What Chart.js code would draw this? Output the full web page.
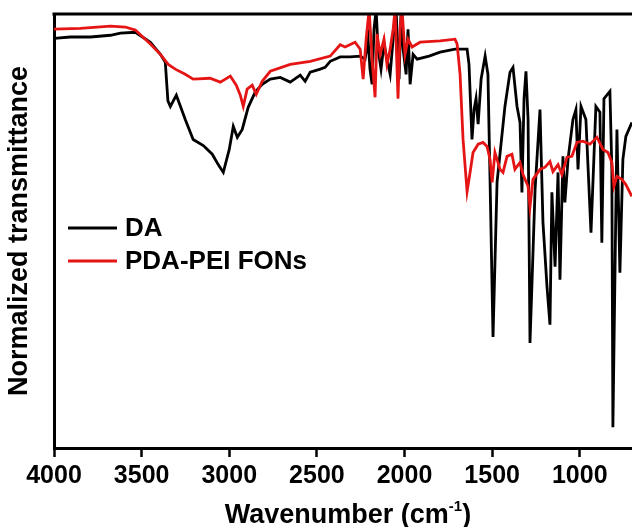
<!DOCTYPE html>
<html>
<head>
<meta charset="utf-8">
<script src="https://cdn.jsdelivr.net/npm/chart.js@4"></script>
<style>
  html, body { margin: 0; padding: 0; background: #fff; }
  #wrap { width: 632px; height: 527px; }
</style>
</head>
<body>
<div id="wrap"><canvas id="chartFtir" width="632" height="527"></canvas></div>
<script>
// x tick labels (wavenumber, cm-1)
const xTicks = [4000, 3500, 3000, 2500, 2000, 1500, 1000];

// DA spectrum: wavenumber / normalized transmittance (arb. units, 0-100)
const daWavenumber = [4000, 3907, 3792, 3678, 3621, 3536, 3450, 3393, 3365, 3350,
  3336, 3302, 3251, 3206, 3148, 3097, 3063, 3034, 3000, 2977,
  2954, 2926, 2892, 2852, 2812, 2766, 2709, 2652, 2595, 2567,
  2538, 2481, 2453, 2424, 2367, 2310, 2253, 2225, 2208, 2197,
  2185, 2174, 2162, 2151, 2134, 2117, 2100, 2082, 2065, 2048,
  2031, 2020, 2008, 1991, 1980, 1968, 1951, 1928, 1860, 1797,
  1712, 1643, 1632, 1615, 1603, 1592, 1580, 1563, 1540, 1524,
  1512, 1495, 1472, 1427, 1398, 1381, 1358, 1341, 1330, 1318,
  1307, 1295, 1284, 1255, 1227, 1210, 1187, 1170, 1159, 1141,
  1124, 1113, 1096, 1085, 1067, 1039, 1022, 1010, 993, 965,
  936, 908, 885, 874, 862, 828, 817, 811, 788, 771,
  754, 737, 703];
const daTrans = [94.4, 94.7, 94.7, 95.1, 95.6, 95.8, 93.5, 90.7, 88.9, 80,
  78.7, 81.3, 75.7, 71.1, 69.7, 67.7, 65.3, 63.5, 68.8, 74.1,
  71.6, 73.4, 78.5, 82.0, 83.8, 85.0, 85.4, 84.3, 85.9, 84.5,
  86.6, 87.3, 87.7, 89.1, 90.1, 90.1, 90.3, 89.6, 94.2, 87.3,
  83.8, 96.5, 101, 91.9, 87.3, 93.1, 89.6, 86.1, 94.2, 101,
  85.0, 100.5, 91.9, 86.1, 96.5, 83.8, 90.7, 89.6, 90.3, 91.2,
  91.9, 91.9, 88.4, 71.1, 78.0, 80.5, 74.6, 85.0, 90.3, 86.1,
  61.9, 25.6, 61.2, 78.7, 86.6, 87.7, 78.7, 75.0, 58.9, 80.5,
  86.8, 75.7, 24.2, 59.6, 78.0, 52.0, 37.2, 28.4, 58.9, 41.8,
  63.5, 38.8, 67.2, 56.6, 66.5, 75.7, 78.0, 64.2, 78.7, 75.7,
  49.6, 78.7, 77.4, 47.3, 80.5, 82.2, 64.2, 4.8, 73.4, 40.4,
  66.5, 71.8, 75.0];

// PDA-PEI FONs spectrum
const pdaWavenumber = [4000, 3850, 3678, 3593, 3536, 3450, 3393, 3348, 3308, 3251,
  3206, 3110, 3051, 2994, 2960, 2937, 2920, 2898, 2869, 2846,
  2812, 2766, 2652, 2538, 2424, 2367, 2339, 2282, 2253, 2236,
  2219, 2202, 2185, 2168, 2157, 2139, 2117, 2100, 2082, 2065,
  2054, 2037, 2025, 2014, 1997, 1980, 1957, 1911, 1797, 1712,
  1700, 1683, 1666, 1643, 1626, 1609, 1580, 1552, 1529, 1512,
  1500, 1484, 1455, 1438, 1415, 1387, 1370, 1341, 1324, 1295,
  1284, 1267, 1227, 1198, 1170, 1153, 1124, 1102, 1073, 1045,
  1016, 982, 942, 902, 868, 839, 817, 805, 788, 760,
  737, 703];
const pdaTrans = [96.5, 96.7, 97.2, 97.0, 96.3, 93.1, 90.7, 88.4, 87.3, 86.1,
  85.0, 85.2, 84.3, 85.7, 83.6, 81.3, 78.7, 82.7, 83.6, 81.5,
  84.5, 86.8, 88.4, 89.1, 90.3, 92.9, 92.4, 93.5, 91.9, 85.0,
  94.2, 101, 89.6, 80.8, 95.4, 90.7, 94.2, 88.4, 91.9, 96.5,
  101, 80.5, 96.5, 101, 90.7, 94.2, 92.4, 93.5, 93.8, 94.2,
  93.1, 86.1, 71.1, 59.1, 63.5, 68.1, 70.0, 70.4, 69.5, 66.5,
  61.2, 68.1, 64.2, 63.5, 67.2, 67.7, 64.2, 65.8, 63.0, 60.3,
  55.6, 61.9, 64.2, 64.7, 66.0, 63.7, 65.3, 63.0, 67.0, 67.2,
  70.4, 70.7, 70.0, 71.6, 68.8, 68.1, 65.8, 60.3, 62.6, 61.9,
  60.7, 58.0];

const FONT = "'Liberation Sans', Arial, sans-serif";
const toPoints = (xs, ys) => xs.map((x, i) => ({ x: x, y: ys[i] }));

// frame top edge, axis titles and legend
const marcoYTextos = {
  id: 'marcoYTextos',
  afterDraw(chart) {
    const { ctx, chartArea: a } = chart;
    ctx.save();
    ctx.strokeStyle = '#000';
    ctx.lineWidth = 3;
    ctx.beginPath();
    ctx.moveTo(a.left - 1.5, a.top);
    ctx.lineTo(a.right, a.top);
    ctx.stroke();

    // legend
    ctx.font = 'bold 26px ' + FONT;
    ctx.textBaseline = 'middle';
    ctx.fillStyle = '#000';
    chart.data.datasets.forEach((ds, i) => {
      const y = 228 + i * 33;
      ctx.strokeStyle = ds.borderColor;
      ctx.lineWidth = 3;
      ctx.beginPath();
      ctx.moveTo(68, y);
      ctx.lineTo(117, y);
      ctx.stroke();
      ctx.fillText(ds.label, 125, y + 1);
    });

    // y title
    ctx.font = 'bold 27px ' + FONT;
    ctx.textAlign = 'center';
    ctx.translate(20, (a.top + a.bottom) / 2);
    ctx.rotate(-Math.PI / 2);
    ctx.fillText('Normalized transmittance', 0, 0);
    ctx.restore();

    // x title with superscript
    ctx.save();
    ctx.fillStyle = '#000';
    ctx.textBaseline = 'alphabetic';
    const main = 'Wavenumber (cm';
    const sup = '-1';
    ctx.font = 'bold 27px ' + FONT;
    const wMain = ctx.measureText(main).width;
    const wClose = ctx.measureText(')').width;
    ctx.font = 'bold 15px ' + FONT;
    const wSup = ctx.measureText(sup).width;
    const total = wMain + wSup + wClose;
    let x = 348 - total / 2;
    const base = 523;
    ctx.font = 'bold 27px ' + FONT;
    ctx.fillText(main, x, base);
    x += wMain;
    ctx.font = 'bold 15px ' + FONT;
    ctx.fillText(sup, x, base - 12);
    x += wSup;
    ctx.font = 'bold 27px ' + FONT;
    ctx.fillText(')', x, base);
    ctx.restore();
  },
};

new Chart(document.getElementById('chartFtir'), {
  type: 'line',
  data: {
    datasets: [
      {
        label: 'DA',
        data: toPoints(daWavenumber, daTrans),
        borderColor: '#000000',
        borderWidth: 2.8,
        pointRadius: 0,
        tension: 0,
        order: 1,
      },
      {
        label: 'PDA-PEI FONs',
        data: toPoints(pdaWavenumber, pdaTrans),
        borderColor: '#e61515',
        borderWidth: 2.8,
        pointRadius: 0,
        tension: 0,
        order: 0,
      },
    ],
  },
  options: {
    responsive: false,
    animation: false,
    layout: { padding: { top: 14, right: 0, bottom: 0, left: 0 } },
    scales: {
      x: {
        type: 'linear',
        reverse: true,
        min: 702,
        max: 4000,
        afterBuildTicks: (scale) => { scale.ticks = xTicks.map(v => ({ value: v })); },
        afterFit: (scale) => { scale.height = 79; },
        border: { display: true, color: '#000', width: 3 },
        grid: { display: true, drawOnChartArea: false, drawTicks: true, tickLength: 9, tickWidth: 2.5, tickColor: '#000', color: '#000' },
        ticks: {
          color: '#000',
          padding: 4,
          maxRotation: 0,
          autoSkip: false,
          font: { family: FONT, size: 25, weight: 'bold' },
          callback: (v) => String(v),
        },
      },
      y: {
        min: 0,
        max: 100,
        afterFit: (scale) => { scale.width = 54; },
        border: { display: true, color: '#000', width: 3 },
        grid: { display: false, drawTicks: false },
        ticks: { display: false },
      },
    },
    plugins: {
      legend: { display: false },
      tooltip: { enabled: false },
    },
  },
  plugins: [marcoYTextos],
});
</script>
</body>
</html>
